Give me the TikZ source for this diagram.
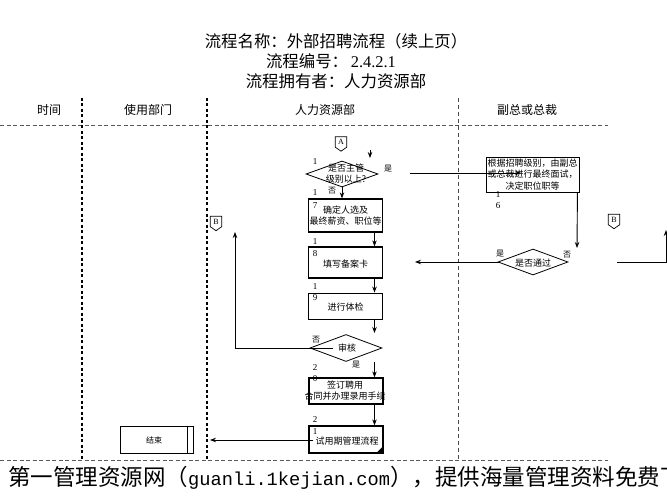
\documentclass[tikz,border=0pt]{standalone}
\usepackage{fontspec}
\setmainfont{Noto Sans CJK SC}
\newfontfamily\tms{Liberation Serif}
\newfontfamily\mono{Liberation Mono}
\usetikzlibrary{shapes.geometric,arrows.meta,calc}
\begin{document}
\begin{tikzpicture}[x=1pt,y=-1pt,
  box/.style={draw,line width=0.9pt,fill=white,inner sep=0pt,minimum width=74pt},
  thickbox/.style={box,line width=1.3pt},
  dia/.style={draw,diamond,line width=0.8pt,inner sep=0pt,fill=white},
  txt/.style={inner sep=0pt,align=center,font=\fontsize{9}{11}\selectfont},
  num/.style={inner sep=0pt,font=\tms\fontsize{9}{9}\selectfont},
  yn/.style={inner sep=0pt,font=\fontsize{8}{8}\selectfont},
  hdr/.style={inner sep=0pt,font=\fontsize{12}{12}\selectfont},
  ttl/.style={inner sep=0pt,font=\fontsize{16.4}{16.4}\selectfont},
  conn/.style={line width=0.9pt},
  arr/.style={conn,-{Stealth[length=6pt,width=4.5pt]}},
  lane/.style={line width=1.6pt,dash pattern=on 3pt off 2.5pt},
  lanethin/.style={line width=0.6pt,dash pattern=on 4pt off 3pt,black!70},
  hline/.style={line width=0.6pt,dash pattern=on 4pt off 2.5pt,black!65},
  offpage/.style={inner sep=0pt,minimum width=11pt,minimum height=10pt,font=\tms\fontsize{8}{8}\selectfont}
]
\useasboundingbox (0,0) rectangle (667,500);

% title
\node[ttl] (title1) at (336,41) {流程名称：外部招聘流程（续上页）};
\node[ttl] (title2) at (331,61) {流程编号：\,{\tms 2.4.2.1}};
\node[ttl] (title3) at (336,81) {流程拥有者：人力资源部};

% header
\node[hdr] (h1) at (49,110) {时间};
\node[hdr] (h2) at (148,110) {使用部门};
\node[hdr] (h3) at (325,110) {人力资源部};
\node[hdr] (h4) at (527,110) {副总或总裁};

% lanes
\draw[hline] (0,125) -- (608,125);
\draw[hline] (0,460) -- (608,460);
\draw[lane] (82,98) -- (82,460);
\draw[lane] (207,98) -- (207,460);
\draw[lanethin] (458,98) -- (458,460);

% off-page connector A
\node[offpage] (A) at (341,142) {A};
\draw[line width=0.7pt] (A.north west) -- (A.north east) -- (A.south east) -- ([yshift=-4pt]A.south) -- (A.south west) -- cycle;
\coordinate (s1) at (370,150);
\coordinate (s2) at (370,158);
\draw[arr] (s1) -- (s2);

% decision 1
\node[dia,minimum width=72pt,minimum height=26pt] (d1) at (342,174) {};
\node[txt] (d1t) at (346,174) {是否主管\\级别以上?};
\node[num] (n1a) at (315,162) {1};
\node[yn] (d1yes) at (388,169) {是};
\node[yn] (d1no) at (332,191) {否};

% box 16 (VP)
\node[box,minimum width=93pt,minimum height=35pt] (b16) at (532.5,174.5) {};
\node[txt,font=\fontsize{9}{11.5}\selectfont] (b16t) at (532.5,174.5) {根据招聘级别，由副总\\或总裁进行最终面试，\\决定职位职等};
\node[num] (n16a) at (498,195) {1};
\node[num] (n16b) at (498,206) {6};
\coordinate (y1a) at (410,173);
\coordinate (y1b) at (521,173);
\draw[arr] (y1a) -- (y1b);

% box 17
\node[thickbox,minimum height=33pt] (b17) at (345.5,215.5) {};
\node[txt] (b17t) at (345.5,215.5) {确定人选及\\最终薪资、职位等};
\node[num] (n17a) at (315,193) {1};
\node[num] (n17b) at (315,206) {7};
\draw[arr] (d1.south) -- (d1.south |- b17.north);

% box 18
\node[thickbox,minimum height=31pt] (b18) at (345.5,262.5) {};
\node[txt] (b18t) at (345.5,264) {填写备案卡};
\node[num] (n18a) at (315,242) {1};
\node[num] (n18b) at (315,254) {8};
\draw[arr] ([xshift=29pt]b17.south) -- ([xshift=29pt]b18.north);

% box 19
\node[box,minimum height=26pt] (b19) at (345.5,306) {};
\node[txt] (b19t) at (345.5,307) {进行体检};
\node[num] (n19a) at (315,287) {1};
\node[num] (n19b) at (315,298) {9};
\draw[arr] ([xshift=29pt]b18.south) -- ([xshift=29pt]b19.north);

% decision 2
\node[dia,minimum width=72pt,minimum height=27pt] (d2) at (346,348) {};
\coordinate (d2in) at (374.5,333);
\draw[arr] ([xshift=29pt]b19.south) -- (d2in);
\coordinate (d2l) at (333,348);
\coordinate (loopend) at (235,232);
\draw[arr] (d2l) -| (loopend);
\node[txt] (d2t) at (347,348) {审核};
\node[yn] (d2no) at (316,340) {否};
\node[yn] (d2yes) at (356,365) {是};

% B connectors
\node[offpage] (Bl) at (216,221.5) {B};
\draw[line width=0.7pt] (Bl.north west) -- (Bl.north east) -- (Bl.south east) -- ([yshift=-4pt]Bl.south) -- (Bl.south west) -- cycle;
\node[offpage] (Br) at (614,219.5) {B};
\draw[line width=0.7pt] (Br.north west) -- (Br.north east) -- (Br.south east) -- ([yshift=-4pt]Br.south) -- (Br.south west) -- cycle;

% box 20
\node[thickbox,minimum height=26pt] (b20) at (346,391) {};
\node[txt] (b20t) at (345,391) {签订聘用\\合同并办理录用手续};
\node[num] (n20a) at (315,368) {2};
\node[num] (n20b) at (315,379) {0};
\coordinate (d2out) at (374.5,362);
\draw[arr] (d2out) -- ([xshift=28.5pt]b20.north);

% box 21
\node[thickbox,minimum height=27pt] (b21) at (346,439.5) {};
\node[txt] (b21t) at (347,441) {试用期管理流程};
\fill (b21.south east) -- ++(-8,0) -- ++(8,-8) -- cycle;
\node[num] (n21a) at (315,420) {2};
\node[num] (n21b) at (315,432) {1};
\draw[arr] ([xshift=28.5pt]b20.south) -- ([xshift=28.5pt]b21.north);

% end box
\node[box,minimum width=73pt,minimum height=27pt] (end) at (156.5,439.5) {};
\draw[line width=0.7pt] ([xshift=-6pt]end.north east) -- ([xshift=-6pt]end.south east);
\node[txt,font=\fontsize{8}{8}\selectfont] (endt) at (154,440) {结束};
\coordinate (b21in) at (313,440);
\coordinate (endin) at (210,440);
\draw[arr] (b21in) -- (endin);

% decision 3
\coordinate (d3in) at (577,248);
\draw[arr] ([xshift=-2pt]b16.south east) -- (d3in);
\node[dia,minimum width=70pt,minimum height=26pt] (d3) at (533,262) {};
\node[txt] (d3t) at (533,263) {是否通过};
\node[yn] (d3yes) at (500,254) {是};
\node[yn] (d3no) at (567,255) {否};
\coordinate (b18in) at (415,262);
\draw[arr] ([xshift=2pt]d3.west) -- (b18in);

% right continuation
\coordinate (r1) at (617,262);
\coordinate (r2) at (666,230);
\draw[arr] (r1) -| (r2);

% footer watermark
\node[anchor=west,inner sep=0pt,font=\fontsize{22.5}{22.5}\selectfont] (wm) at (8,478) {第一管理资源网（{\mono\fontsize{18.7}{18.7}\selectfont guanli.1kejian.com}），提供海量管理资料免费下};
\end{tikzpicture}
\end{document}
